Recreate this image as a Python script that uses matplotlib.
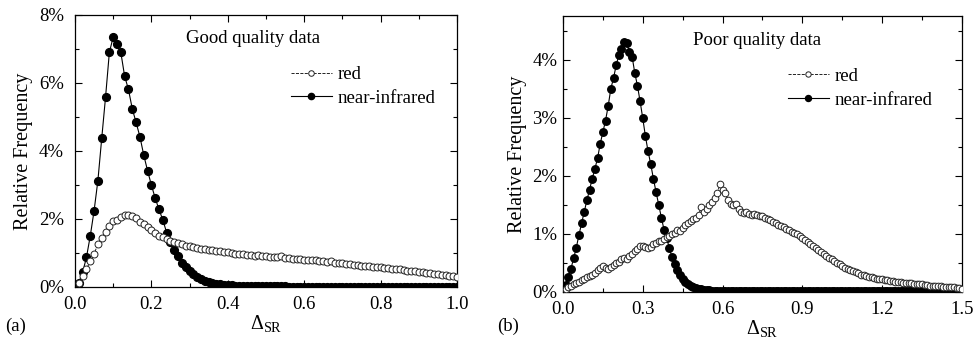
import numpy as np
import matplotlib
matplotlib.use("Agg")
import matplotlib.pyplot as plt
from matplotlib.ticker import MultipleLocator, FuncFormatter

plt.rcParams['font.family'] = ['Liberation Serif', 'DejaVu Serif']
plt.rcParams['mathtext.fontset'] = 'custom'
plt.rcParams['mathtext.rm'] = 'Liberation Serif'
plt.rcParams['mathtext.it'] = 'Liberation Serif:italic'
plt.rcParams['font.size'] = 13.5

# bin width 0.01 for all histograms (values in %)
bin_w = 0.01

# (a) good quality data, bins 0.01 .. 1.00
good_nir = [0.13, 0.43, 0.87, 1.50, 2.24, 3.13, 4.37, 5.58, 6.90, 7.35,
            7.14, 6.90, 6.20, 5.81, 5.24, 4.84, 4.42, 3.88, 3.42, 3.00,
            2.61, 2.28, 1.97, 1.60, 1.33, 1.10, 0.90, 0.72, 0.58, 0.46,
            0.37, 0.30, 0.24, 0.19, 0.15, 0.12, 0.10, 0.08, 0.065, 0.055,
            0.045, 0.04, 0.035, 0.03, 0.03, 0.025, 0.025, 0.02, 0.02, 0.02,
            0.018, 0.017, 0.016, 0.015, 0.015, 0.014, 0.013, 0.013, 0.012, 0.012,
            0.011, 0.011, 0.011, 0.010, 0.010, 0.010, 0.010, 0.010, 0.010, 0.010,
            0.010, 0.010, 0.010, 0.010, 0.010, 0.010, 0.010, 0.010, 0.010, 0.010,
            0.009, 0.009, 0.009, 0.009, 0.009, 0.009, 0.009, 0.009, 0.009, 0.009,
            0.009, 0.009, 0.009, 0.009, 0.009, 0.009, 0.009, 0.009, 0.009, 0.009]
good_red = [0.12, 0.31, 0.53, 0.75, 0.98, 1.25, 1.45, 1.62, 1.80, 1.93,
            1.98, 2.05, 2.12, 2.13, 2.08, 2.02, 1.92, 1.85, 1.75, 1.68,
            1.58, 1.50, 1.46, 1.42, 1.36, 1.31, 1.28, 1.25, 1.22, 1.20,
            1.18, 1.15, 1.12, 1.11, 1.10, 1.08, 1.06, 1.05, 1.03, 1.02,
            1.00, 0.98, 0.97, 0.96, 0.94, 0.95, 0.92, 0.93, 0.91, 0.90,
            0.89, 0.88, 0.87, 0.92, 0.86, 0.84, 0.83, 0.82, 0.81, 0.80,
            0.79, 0.78, 0.78, 0.76, 0.75, 0.74, 0.75, 0.72, 0.71, 0.70,
            0.69, 0.67, 0.66, 0.65, 0.63, 0.62, 0.61, 0.60, 0.60, 0.58,
            0.57, 0.56, 0.54, 0.53, 0.52, 0.50, 0.48, 0.47, 0.46, 0.44,
            0.43, 0.42, 0.40, 0.39, 0.38, 0.36, 0.35, 0.33, 0.31, 0.29]

# (b) poor quality data, bins 0.01 .. 1.50
poor_nir = [0.12, 0.25, 0.40, 0.58, 0.76, 0.98, 1.18, 1.38, 1.58, 1.76,
            1.95, 2.12, 2.30, 2.55, 2.75, 2.95, 3.20, 3.50, 3.68, 3.90,
            4.08, 4.18, 4.30, 4.29, 4.13, 4.05, 3.77, 3.55, 3.28, 2.99,
            2.68, 2.42, 2.20, 1.95, 1.72, 1.50, 1.28, 1.07, 0.93, 0.75,
            0.60, 0.48, 0.38, 0.30, 0.23, 0.18, 0.14, 0.11, 0.09, 0.07,
            0.06, 0.05, 0.04, 0.035, 0.03, 0.025, 0.022, 0.02, 0.018, 0.016,
            0.015, 0.014, 0.013, 0.012, 0.012, 0.011, 0.011, 0.010, 0.010, 0.010,
            0.010, 0.010, 0.010, 0.010, 0.010, 0.010, 0.010, 0.010, 0.010, 0.010,
            0.010, 0.010, 0.010, 0.010, 0.010, 0.010, 0.010, 0.010, 0.010, 0.010,
            0.010, 0.010, 0.010, 0.010, 0.010, 0.010, 0.010, 0.010, 0.010, 0.010,
            0.010, 0.010, 0.010, 0.010, 0.010, 0.010, 0.010, 0.010, 0.010, 0.010,
            0.010, 0.010, 0.010, 0.010, 0.010, 0.010, 0.010, 0.010, 0.010, 0.010,
            0.010, 0.010, 0.010, 0.010, 0.010, 0.010, 0.010, 0.010, 0.010, 0.010,
            0.010, 0.010, 0.010, 0.010, 0.010, 0.010, 0.010, 0.010, 0.010, 0.010,
            0.010, 0.010, 0.010, 0.010, 0.010, 0.010, 0.010, 0.010, 0.010, 0.010]
poor_red = [0.06, 0.09, 0.11, 0.13, 0.15, 0.17, 0.20, 0.22, 0.25, 0.27,
            0.30, 0.33, 0.37, 0.42, 0.44, 0.41, 0.40, 0.43, 0.47, 0.50,
            0.52, 0.56, 0.58, 0.56, 0.62, 0.66, 0.70, 0.74, 0.80, 0.79,
            0.77, 0.76, 0.78, 0.82, 0.85, 0.87, 0.88, 0.92, 0.94, 0.96,
            1.00, 1.02, 1.06, 1.05, 1.10, 1.15, 1.18, 1.22, 1.25, 1.28,
            1.32, 1.47, 1.38, 1.42, 1.50, 1.55, 1.62, 1.70, 1.85, 1.75,
            1.70, 1.58, 1.52, 1.50, 1.52, 1.42, 1.38, 1.36, 1.37, 1.35,
            1.33, 1.34, 1.32, 1.30, 1.30, 1.28, 1.26, 1.24, 1.21, 1.18,
            1.16, 1.13, 1.11, 1.08, 1.06, 1.04, 1.02, 0.99, 0.96, 0.93,
            0.90, 0.86, 0.82, 0.79, 0.76, 0.72, 0.69, 0.66, 0.62, 0.59,
            0.56, 0.53, 0.50, 0.48, 0.45, 0.42, 0.40, 0.38, 0.36, 0.34,
            0.32, 0.30, 0.29, 0.28, 0.26, 0.25, 0.24, 0.23, 0.22, 0.22,
            0.21, 0.20, 0.19, 0.19, 0.18, 0.17, 0.17, 0.16, 0.16, 0.15,
            0.15, 0.14, 0.14, 0.13, 0.13, 0.12, 0.12, 0.11, 0.11, 0.10,
            0.10, 0.10, 0.09, 0.09, 0.09, 0.08, 0.08, 0.07, 0.07, 0.06]


def bins(vals):
    return np.arange(1, len(vals) + 1) * bin_w


fig = plt.figure(figsize=(9.75, 3.43), dpi=100)
ax1 = fig.add_axes([0.0769, 0.1633, 0.3918, 0.793])
ax2 = fig.add_axes([0.5774, 0.1487, 0.4092, 0.8047])

pct = FuncFormatter(lambda v, p: "%d%%" % round(v))


def draw(ax, red, nir, ms_red, ms_nir, ypad):
    ax.plot(bins(nir), nir, '-', color='black', lw=0.8, marker='o', ms=ms_nir,
            mfc='black', mec='black', label='near-infrared', zorder=2)
    ax.plot(bins(red), red, '--', color='black', lw=0.6, marker='o', ms=ms_red,
            mfc='white', mec='#222222', mew=0.7, label='red', zorder=3)
    ax.tick_params(which='both', direction='in', top=True, right=True,
                   width=0.8, labelsize=13.5)
    ax.tick_params(which='major', length=5)
    ax.tick_params(which='minor', length=3)
    ax.tick_params(axis='x', pad=6.5)
    ax.tick_params(axis='y', pad=ypad)
    ax.yaxis.set_major_formatter(pct)
    ax.set_ylabel('Relative Frequency', fontsize=14.5, labelpad=4)
    ax.set_xlabel(r'$\Delta_{\rm SR}$', fontsize=14.5, labelpad=0)
    h, l = ax.get_legend_handles_labels()
    ax.legend(h[::-1], l[::-1], frameon=False, loc='upper left',
              bbox_to_anchor=(0.53, 0.86), handlelength=2.2, handletextpad=0.3,
              labelspacing=0.35, borderpad=0.2, fontsize=13.5, markerscale=0.8)
    for s in ax.spines.values():
        s.set_linewidth(0.9)


draw(ax1, good_red, good_nir, 5.0, 5.6, 8)
ax1.set_xlim(0, 1.0)
ax1.set_ylim(0, 8)
ax1.xaxis.set_major_locator(MultipleLocator(0.2))
ax1.xaxis.set_minor_locator(MultipleLocator(0.1))
ax1.yaxis.set_major_locator(MultipleLocator(2))
ax1.yaxis.set_minor_locator(MultipleLocator(1))
ax1.xaxis.set_major_formatter(FuncFormatter(lambda v, p: "%.1f" % v))
ax1.text(0.466, 0.915, 'Good quality data', transform=ax1.transAxes,
         ha='center', va='center', fontsize=13.5)

draw(ax2, poor_red, poor_nir, 4.8, 5.4, 4)
ax2.set_xlim(0, 1.5)
ax2.set_ylim(0, 4.75)
ax2.xaxis.set_major_locator(MultipleLocator(0.3))
ax2.xaxis.set_minor_locator(MultipleLocator(0.15))
ax2.yaxis.set_major_locator(MultipleLocator(1))
ax2.yaxis.set_minor_locator(MultipleLocator(0.5))
ax2.xaxis.set_major_formatter(FuncFormatter(lambda v, p: "%.1f" % v))
ax2.text(0.486, 0.91, 'Poor quality data', transform=ax2.transAxes,
         ha='center', va='center', fontsize=13.5)

fig.text(0.005, 0.05, '(a)', fontsize=13.5, ha='left', va='center')
fig.text(0.51, 0.05, '(b)', fontsize=13.5, ha='left', va='center')

plt.savefig("out.png", dpi=100)
